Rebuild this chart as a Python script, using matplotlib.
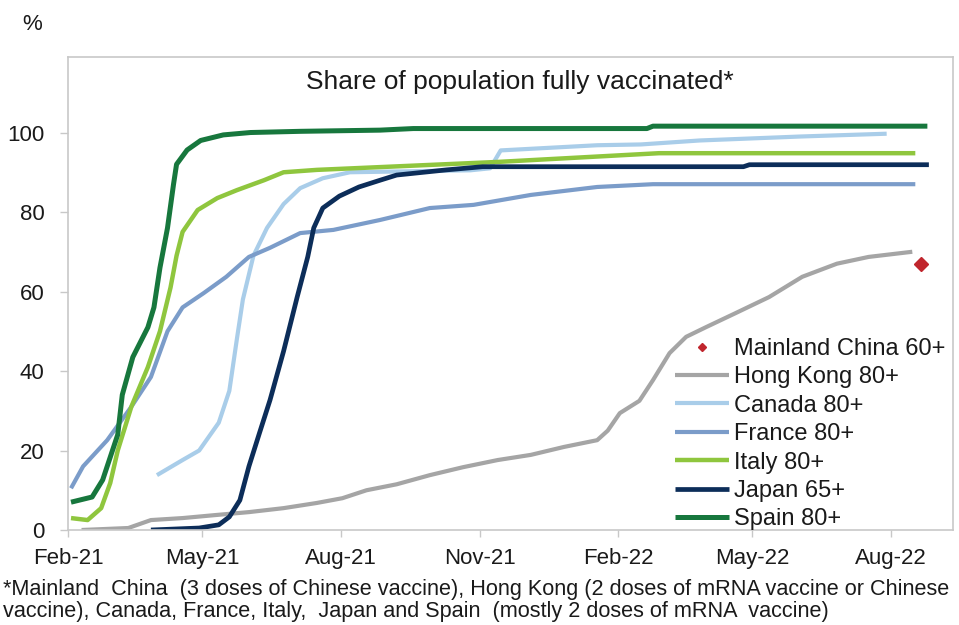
import matplotlib
matplotlib.use("Agg")
import matplotlib.pyplot as plt
import pandas as pd

plt.rcParams['font.family'] = ['Liberation Sans', 'DejaVu Sans']

# ---- data: share of population fully vaccinated (%) ----
spain_dates = ["2021-02-03", "2021-02-17", "2021-02-24", "2021-03-06", "2021-03-09",
               "2021-03-16", "2021-03-26", "2021-03-30", "2021-04-03", "2021-04-08",
               "2021-04-12", "2021-04-14", "2021-04-21", "2021-04-30", "2021-05-15",
               "2021-06-02", "2021-07-05", "2021-08-27", "2021-09-18", "2022-02-20",
               "2022-02-24", "2022-08-25"]
spain_vals = [7.0, 8.3, 12.6, 24, 34, 43.5, 51, 56, 66, 76, 87, 92, 95.6, 98, 99.4,
              100, 100.3, 100.6, 101.0, 101.0, 101.6, 101.6]

italy_dates = ["2021-02-03", "2021-02-14", "2021-02-23", "2021-03-01", "2021-03-06",
               "2021-03-15", "2021-03-26", "2021-04-03", "2021-04-10", "2021-04-14",
               "2021-04-18", "2021-04-28", "2021-05-11", "2021-05-24", "2021-06-11",
               "2021-06-24", "2021-07-16", "2021-08-27", "2021-11-13", "2022-02-28",
               "2022-08-17"]
italy_vals = [3.0, 2.5, 5.5, 11.8, 20, 31, 41, 50, 61, 69, 75, 80.5, 83.5, 85.5, 88,
              90, 90.6, 91.3, 92.6, 94.8, 94.8]

canada_dates = ["2021-04-01", "2021-04-18", "2021-04-29", "2021-05-12", "2021-05-19",
                "2021-05-24", "2021-05-28", "2021-06-04", "2021-06-13", "2021-06-24",
                "2021-07-05", "2021-07-20", "2021-08-07", "2021-10-26", "2021-11-08",
                "2021-11-15", "2022-01-18", "2022-02-16", "2022-03-27", "2022-06-02",
                "2022-07-29"]
canada_vals = [13.8, 17.6, 20, 27, 35, 48, 58, 69, 76, 82, 86, 88.5, 90, 90.5, 91,
               95.5, 96.8, 97, 98, 99, 99.7]

france_dates = ["2021-02-03", "2021-02-11", "2021-02-27", "2021-03-15", "2021-03-28",
                "2021-04-08", "2021-04-18", "2021-05-02", "2021-05-17", "2021-06-01",
                "2021-06-15", "2021-07-05", "2021-07-27", "2021-08-27", "2021-09-29",
                "2021-10-28", "2021-12-05", "2022-01-18", "2022-02-24", "2022-08-17"]
france_vals = [10.5, 16, 22.6, 31, 38.5, 50, 56, 59.6, 63.7, 68.7, 71, 74.7, 75.5, 78,
               81, 81.8, 84.3, 86.3, 87, 87]

japan_dates = ["2021-03-28", "2021-04-29", "2021-05-12", "2021-05-19", "2021-05-26",
               "2021-06-01", "2021-06-08", "2021-06-15", "2021-06-24", "2021-07-03",
               "2021-07-10", "2021-07-14", "2021-07-20", "2021-07-31", "2021-08-13",
               "2021-08-27", "2021-09-07", "2021-10-10", "2021-11-03", "2022-04-25",
               "2022-04-29", "2022-08-26"]
japan_vals = [0, 0.5, 1.3, 3.3, 7.5, 16, 24.4, 32.7, 45, 58.6, 68.7, 76, 81, 84, 86.3,
              88, 89.3, 90.6, 91.4, 91.4, 91.9, 91.9]

hk_dates = ["2021-02-10", "2021-03-13", "2021-03-28", "2021-04-18", "2021-05-11",
            "2021-06-01", "2021-06-24", "2021-07-16", "2021-08-02", "2021-08-18",
            "2021-09-07", "2021-09-29", "2021-10-21", "2021-11-13", "2021-12-05",
            "2021-12-27", "2022-01-18", "2022-01-25", "2022-02-02", "2022-02-15",
            "2022-02-24", "2022-03-07", "2022-03-18", "2022-03-31", "2022-04-20",
            "2022-05-12", "2022-06-03", "2022-06-26", "2022-07-17", "2022-08-15"]
hk_vals = [0, 0.5, 2.5, 3, 3.8, 4.5, 5.5, 6.8, 8, 10, 11.5, 13.8, 15.8, 17.6, 18.9,
           20.9, 22.6, 25, 29.4, 32.5, 37.7, 44.5, 48.6, 51, 54.6, 58.6, 63.7, 67,
           68.7, 70]

china_dates = ["2022-08-21"]
china_vals = [67]

tick_dates = ["2021-02-01", "2021-05-01", "2021-08-01", "2021-11-01",
              "2022-02-01", "2022-05-01", "2022-08-01"]
tick_labels = ["Feb-21", "May-21", "Aug-21", "Nov-21", "Feb-22", "May-22", "Aug-22"]
y_ticks = [0, 20, 40, 60, 80, 100]

# ---- styling ----
C_SPAIN = "#17773d"
C_ITALY = "#8fc63e"
C_CANADA = "#a9cde9"
C_FRANCE = "#7b9cc9"
C_JAPAN = "#0c2d59"
C_HK = "#a5a5a5"
C_CHINA = "#c0262d"
GRID = "#c8c8c8"
TEXT = "#1a1a1a"

fig = plt.figure(figsize=(9.59, 6.25), dpi=100)
ax = fig.add_axes([68 / 959, 95 / 625, 885 / 959, 473 / 625])

d = pd.to_datetime
h_hk, = ax.plot(d(hk_dates), hk_vals, color=C_HK, lw=3.0, solid_capstyle="butt",
                label="Hong Kong 80+")
h_ca, = ax.plot(d(canada_dates), canada_vals, color=C_CANADA, lw=3.0,
                solid_capstyle="butt", label="Canada 80+")
h_fr, = ax.plot(d(france_dates), france_vals, color=C_FRANCE, lw=3.0,
                solid_capstyle="butt", label="France 80+")
h_it, = ax.plot(d(italy_dates), italy_vals, color=C_ITALY, lw=3.2,
                solid_capstyle="butt", label="Italy 80+")
h_jp, = ax.plot(d(japan_dates), japan_vals, color=C_JAPAN, lw=3.4,
                solid_capstyle="butt", label="Japan 65+")
h_es, = ax.plot(d(spain_dates), spain_vals, color=C_SPAIN, lw=3.6,
                solid_capstyle="butt", label="Spain 80+")
h_cn, = ax.plot(d(china_dates), china_vals, linestyle="none", marker="D",
                markersize=7, color=C_CHINA, label="Mainland China 60+")

ax.set_xlim(pd.Timestamp("2021-02-01"), pd.Timestamp("2022-09-11"))
ax.set_ylim(0, 119)

ax.set_xticks(d(tick_dates))
ax.set_xticklabels(tick_labels)
ax.set_yticks(y_ticks)
ax.set_yticklabels([str(v) for v in y_ticks])

for s in ax.spines.values():
    s.set_color(GRID)
    s.set_linewidth(1.2)

ax.tick_params(axis="y", direction="out", length=6, width=1, color=GRID,
               labelsize=16, labelcolor=TEXT, pad=11)
ax.tick_params(axis="x", direction="out", length=5, width=1, color=GRID,
               labelsize=16, labelcolor=TEXT, pad=8)

ax.text(0.511, 0.947, "Share of population fully vaccinated*", transform=ax.transAxes,
        ha="center", va="center", fontsize=19, color=TEXT)

fig.text(32 / 959, 1 - 24 / 625, "%", ha="center", va="center", fontsize=16,
         color=TEXT)

leg = ax.legend(handles=[h_cn, h_hk, h_ca, h_fr, h_it, h_jp, h_es],
                loc="upper left", bbox_to_anchor=(607 / 885, 1 - (338 - 57) / 473),
                frameon=False, fontsize=17, handlelength=2.3, handletextpad=0.2,
                labelspacing=0.27, borderpad=0, borderaxespad=0, markerscale=0.65)
for t in leg.get_texts():
    t.set_color(TEXT)

fig.text(3 / 959, 1 - 590 / 625,
         "*Mainland  China  (3 doses of Chinese vaccine), Hong Kong (2 doses of mRNA vaccine or Chinese",
         ha="left", va="center", fontsize=15.6, color=TEXT)
fig.text(3 / 959, 1 - 612 / 625,
         "vaccine), Canada, France, Italy,  Japan and Spain  (mostly 2 doses of mRNA  vaccine)",
         ha="left", va="center", fontsize=15.6, color=TEXT)

fig.savefig("out.png", dpi=100)
